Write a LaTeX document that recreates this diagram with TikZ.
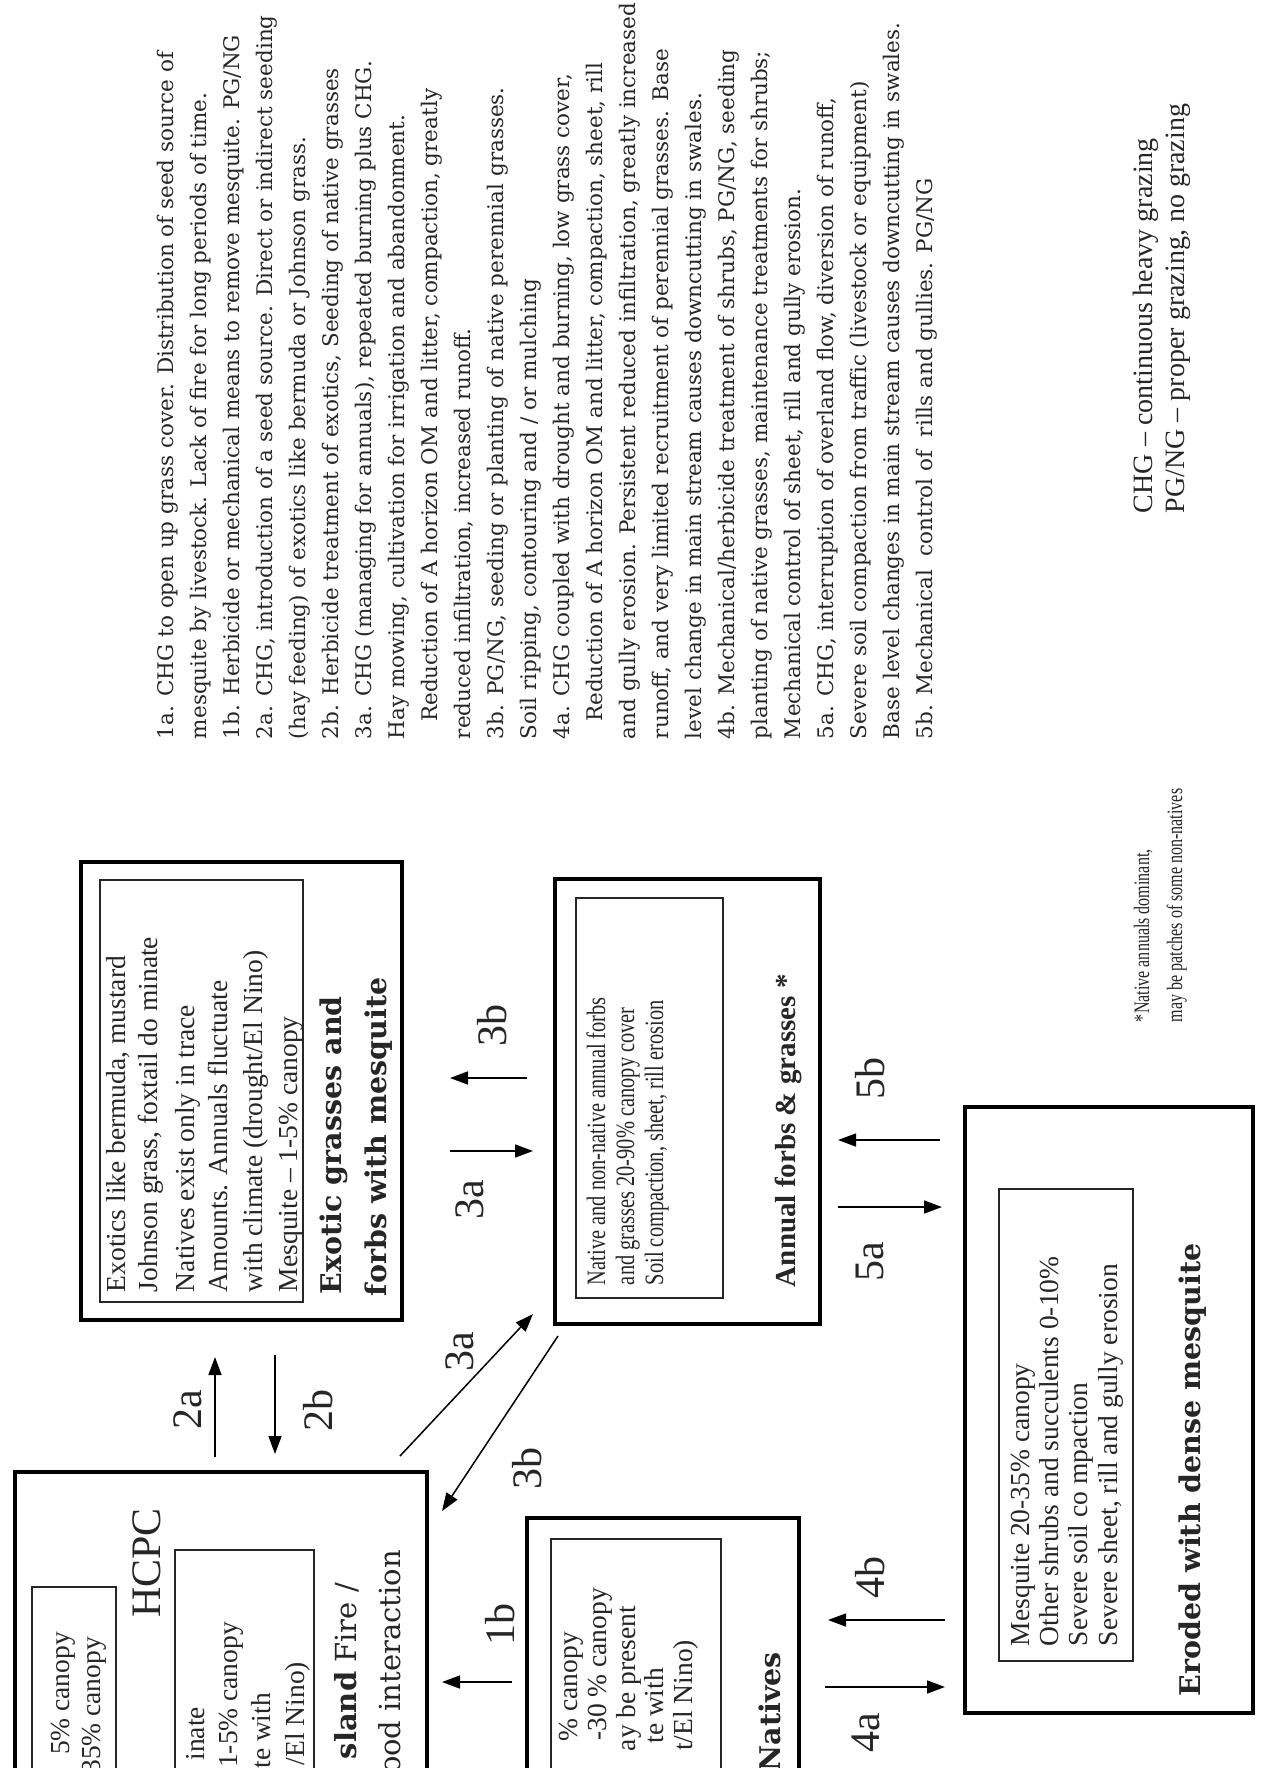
\documentclass[tikz,border=0pt]{standalone}
\usepackage{fontspec}
\setmainfont{Liberation Serif}
\newfontfamily\dvs{DejaVu Serif}
\usetikzlibrary{arrows.meta}
\begin{document}
\begin{tikzpicture}[x=0.5pt,y=-0.5pt,
  outerbox/.style={draw=black, line width=2.2pt, inner sep=0pt, anchor=north west},
  innerbox/.style={draw=black!85, line width=0.8pt, inner sep=0pt, anchor=north west},
  arr/.style={line width=0.75pt, -{Triangle[length=9pt,width=6.5pt]}},
  rt/.style={rotate=90, inner sep=0pt, outer sep=0pt, text=black!85},
  para/.style={rt, anchor=base west, font=\dvs\fontsize{10.75}{13}\selectfont},
  btxt/.style={rt, anchor=base west, font=\fontsize{13.75}{16}\selectfont},
  stxt/.style={rt, anchor=base west, font=\fontsize{13.25}{15}\selectfont},
  btxtend/.style={rt, anchor=base east, font=\fontsize{13.75}{16}\selectfont},
  ttl/.style={rt, anchor=base west, font=\dvs\bfseries\fontsize{14.25}{17}\selectfont},
  ttlend/.style={rt, anchor=base east, font=\dvs\bfseries\fontsize{14.25}{17}\selectfont},
  lbl/.style={rt, anchor=center, font=\fontsize{21}{24}\selectfont},
  legend/.style={rt, anchor=base west, font=\fontsize{14}{16}\selectfont},
  foot/.style={rt, anchor=base west, font=\fontsize{11}{13}\selectfont},
]
\useasboundingbox (0,0) rectangle (1262,1768);
\clip (0,0) rectangle (1262,1768);
\fill[white] (0,0) rectangle (1262,1768);

% ---------- paragraph ----------
\foreach \t [count=\i from 0] in {
{1a. CHG to open up grass cover. Distribution of seed source of},
{mesquite by livestock. Lack of fire for long periods of time.},
{1b. Herbicide or mechanical means to remove mesquite. PG/NG},
{2a. CHG, introduction of a seed source. Direct or indirect seeding},
{(hay feeding) of exotics like bermuda or Johnson grass.},
{2b. Herbicide treatment of exotics, Seeding of native grasses},
{3a. CHG (managing for annuals), repeated burning plus CHG.},
{Hay mowing, cultivation for irrigation and abandonment.},
{\hspace*{0.8em}Reduction of A horizon OM and litter, compaction, greatly},
{reduced infiltration, increased runoff.},
{3b. PG/NG, seeding or planting of native perennial grasses.},
{Soil ripping, contouring and / or mulching},
{4a. CHG coupled with drought and burning, low grass cover,},
{\hspace*{0.8em}Reduction of A horizon OM and litter, compaction, sheet, rill},
{and gully erosion. Persistent reduced infiltration, greatly increased},
{runoff, and very limited recruitment of perennial grasses. Base},
{level change in main stream causes downcutting in swales.},
{4b. Mechanical/herbicide treatment of shrubs, PG/NG, seeding},
{planting of native grasses, maintenance treatments for shrubs;},
{Mechanical control of sheet, rill and gully erosion.},
{5a. CHG, interruption of overland flow, diversion of runoff,},
{Severe soil compaction from traffic (livestock or equipment)},
{Base level changes in main stream causes downcutting in swales.},
{5b. Mechanical\ \ control of\ \ rills and gullies. PG/NG}}
  \node[para] (p\i) at ({173+\i*33.0}, 739) {\t};

% ---------- legend ----------
\node[legend] (leg1) at (1152,513) {CHG -- continuous heavy grazing};
\node[legend] (leg2) at (1184,513) {PG/NG -- proper grazing, no grazing};
\node[foot] (ft1) at (1149,1022) {\scalebox{0.73}[1]{*Native annuals dominant,}};
\node[foot] (ft2) at (1182,1022) {\scalebox{0.73}[1]{may be patches of some non-natives}};

% ---------- Exotic box ----------
\node[outerbox, minimum width=160.5pt, minimum height=229pt] (exo) at (79,860) {};
\node[innerbox, minimum width=101.5pt, minimum height=211pt] (exoin) at (99,879) {};
\node[btxt] (e1) at (125,1292) {Exotics like bermuda, mustard};
\node[btxt] (e2) at (157,1292) {Johnson grass, foxtail do minate};
\node[btxt] (e3) at (194,1292) {Natives exist only in trace};
\node[btxt] (e4) at (227,1292) {Amounts. Annuals fluctuate};
\node[btxt] (e5) at (262,1292) {with climate (drought/El Nino)};
\node[btxt] (e6) at (297,1292) {Mesquite -- 1-5\% canopy};
\node[ttl] (et1) at (341,1294) {Exotic grasses and};
\node[ttl] (et2) at (386,1296) {forbs with mesquite};

% ---------- HCPC box ----------
\node[outerbox, minimum width=206pt, minimum height=175pt] (hcpc) at (13,1470) {};
\node[innerbox, minimum width=42pt, minimum height=130pt] (hcpcA) at (31,1586) {};
\node[innerbox, minimum width=69.5pt, minimum height=140pt] (hcpcB) at (174,1549) {};
\node[btxtend] (h1) at (69,1632) {5\% canopy};
\node[btxtend] (h2) at (100,1637) {35\% canopy};
\node[lbl] (hl) at (147,1563) {HCPC};
\node[btxtend] (h3) at (204,1707) {inate};
\node[btxtend] (h4) at (237,1622) {1-5\% canopy};
\node[btxtend] (h5) at (270,1693) {te with};
\node[btxtend] (h6) at (304,1662) {/El Nino)};
\node[rt, anchor=base east, font=\dvs\fontsize{14.5}{17}\selectfont] (ht1) at (356,1583) {\textbf{sland} Fire /};
\node[rt, anchor=base east, font=\dvs\fontsize{14.5}{17}\selectfont] (ht2) at (400,1550) {ood interaction};

% ---------- Annual box ----------
\node[outerbox, minimum width=132.5pt, minimum height=222.5pt] (ann) at (553,877) {};
\node[innerbox, minimum width=73.5pt, minimum height=200pt] (annin) at (575,897) {};
\node[stxt] (a1) at (605,1285) {\scalebox{0.77}[1]{Native and non-native annual forbs}};
\node[stxt] (a2) at (634,1285) {\scalebox{0.77}[1]{and grasses 20-90\% canopy cover}};
\node[stxt] (a3) at (663,1285) {\scalebox{0.77}[1]{Soil compaction, sheet, rill erosion}};
\node[rt, anchor=base west, font=\bfseries\fontsize{14.5}{17}\selectfont] (at1) at (795,1287) {Annual forbs \& grasses *};

% ---------- Natives box ----------
\node[outerbox, minimum width=136pt, minimum height=140pt] (nat) at (525,1516) {};
\node[innerbox, minimum width=85pt, minimum height=130pt] (natin) at (550,1538) {};
\node[btxtend] (n1) at (577,1632) {\% canopy};
\node[btxtend] (n2) at (606,1588) {-30 \% canopy};
\node[btxtend] (n3) at (635,1606) {ay be present};
\node[btxtend] (n4) at (663,1668) {te with};
\node[btxtend] (n5) at (692,1640) {t/El Nino)};
\node[ttlend] (nt) at (780,1652) {Natives};

% ---------- Eroded box ----------
\node[outerbox, minimum width=144pt, minimum height=303pt] (ero) at (963,1105) {};
\node[innerbox, minimum width=67pt, minimum height=236pt] (eroin) at (998,1188) {};
\node[btxt] (r1) at (1029,1646) {Mesquite 20-35\% canopy};
\node[btxt] (r2) at (1058,1646) {Other shrubs and succulents 0-10\%};
\node[btxt] (r3) at (1087,1646) {Severe soil co mpaction};
\node[btxt] (r4) at (1117,1646) {Severe sheet, rill and gully erosion};
\node[ttl] (rt1) at (1200,1696) {Eroded with dense mesquite};

% ---------- arrows ----------
\coordinate (a2s) at (215,1457); \coordinate (a2e) at (215,1357);
\coordinate (b2s) at (275,1355); \coordinate (b2e) at (275,1454);
\draw[arr] (a2s) -- (a2e);
\draw[arr] (b2s) -- (b2e);
\node[lbl] (l2a) at (188,1410) {2a};
\node[lbl] (l2b) at (318,1410) {2b};

\coordinate (d3as) at (400,1456); \coordinate (d3ae) at (533,1314);
\coordinate (d3bs) at (558,1336); \coordinate (d3be) at (442,1511);
\draw[arr] (d3as) -- (d3ae);
\draw[arr] (d3bs) -- (d3be);
\node[lbl] (l3ad) at (460,1352) {3a};
\node[lbl] (l3bd) at (527,1468) {3b};

\coordinate (v3bs) at (527,1078); \coordinate (v3be) at (450,1078);
\coordinate (v3as) at (450,1151); \coordinate (v3ae) at (533,1151);
\draw[arr] (v3bs) -- (v3be);
\draw[arr] (v3as) -- (v3ae);
\node[lbl] (l3bv) at (492,1025) {3b};
\node[lbl] (l3av) at (470,1200) {3a};

\coordinate (v1bs) at (512,1682); \coordinate (v1be) at (442,1682);
\draw[arr] (v1bs) -- (v1be);
\node[lbl] (l1b) at (500,1624) {1b};

\coordinate (v5bs) at (940,1140); \coordinate (v5be) at (838,1140);
\coordinate (v5as) at (838,1207); \coordinate (v5ae) at (942,1207);
\draw[arr] (v5bs) -- (v5be);
\draw[arr] (v5as) -- (v5ae);
\node[lbl] (l5b) at (870,1078) {5b};
\node[lbl] (l5a) at (870,1262) {5a};

\coordinate (v4bs) at (945,1620); \coordinate (v4be) at (828,1620);
\coordinate (v4as) at (825,1687); \coordinate (v4ae) at (945,1687);
\draw[arr] (v4bs) -- (v4be);
\draw[arr] (v4as) -- (v4ae);
\node[lbl] (l4b) at (870,1577) {4b};
\node[lbl] (l4a) at (866,1733) {4a};
\end{tikzpicture}
\end{document}
